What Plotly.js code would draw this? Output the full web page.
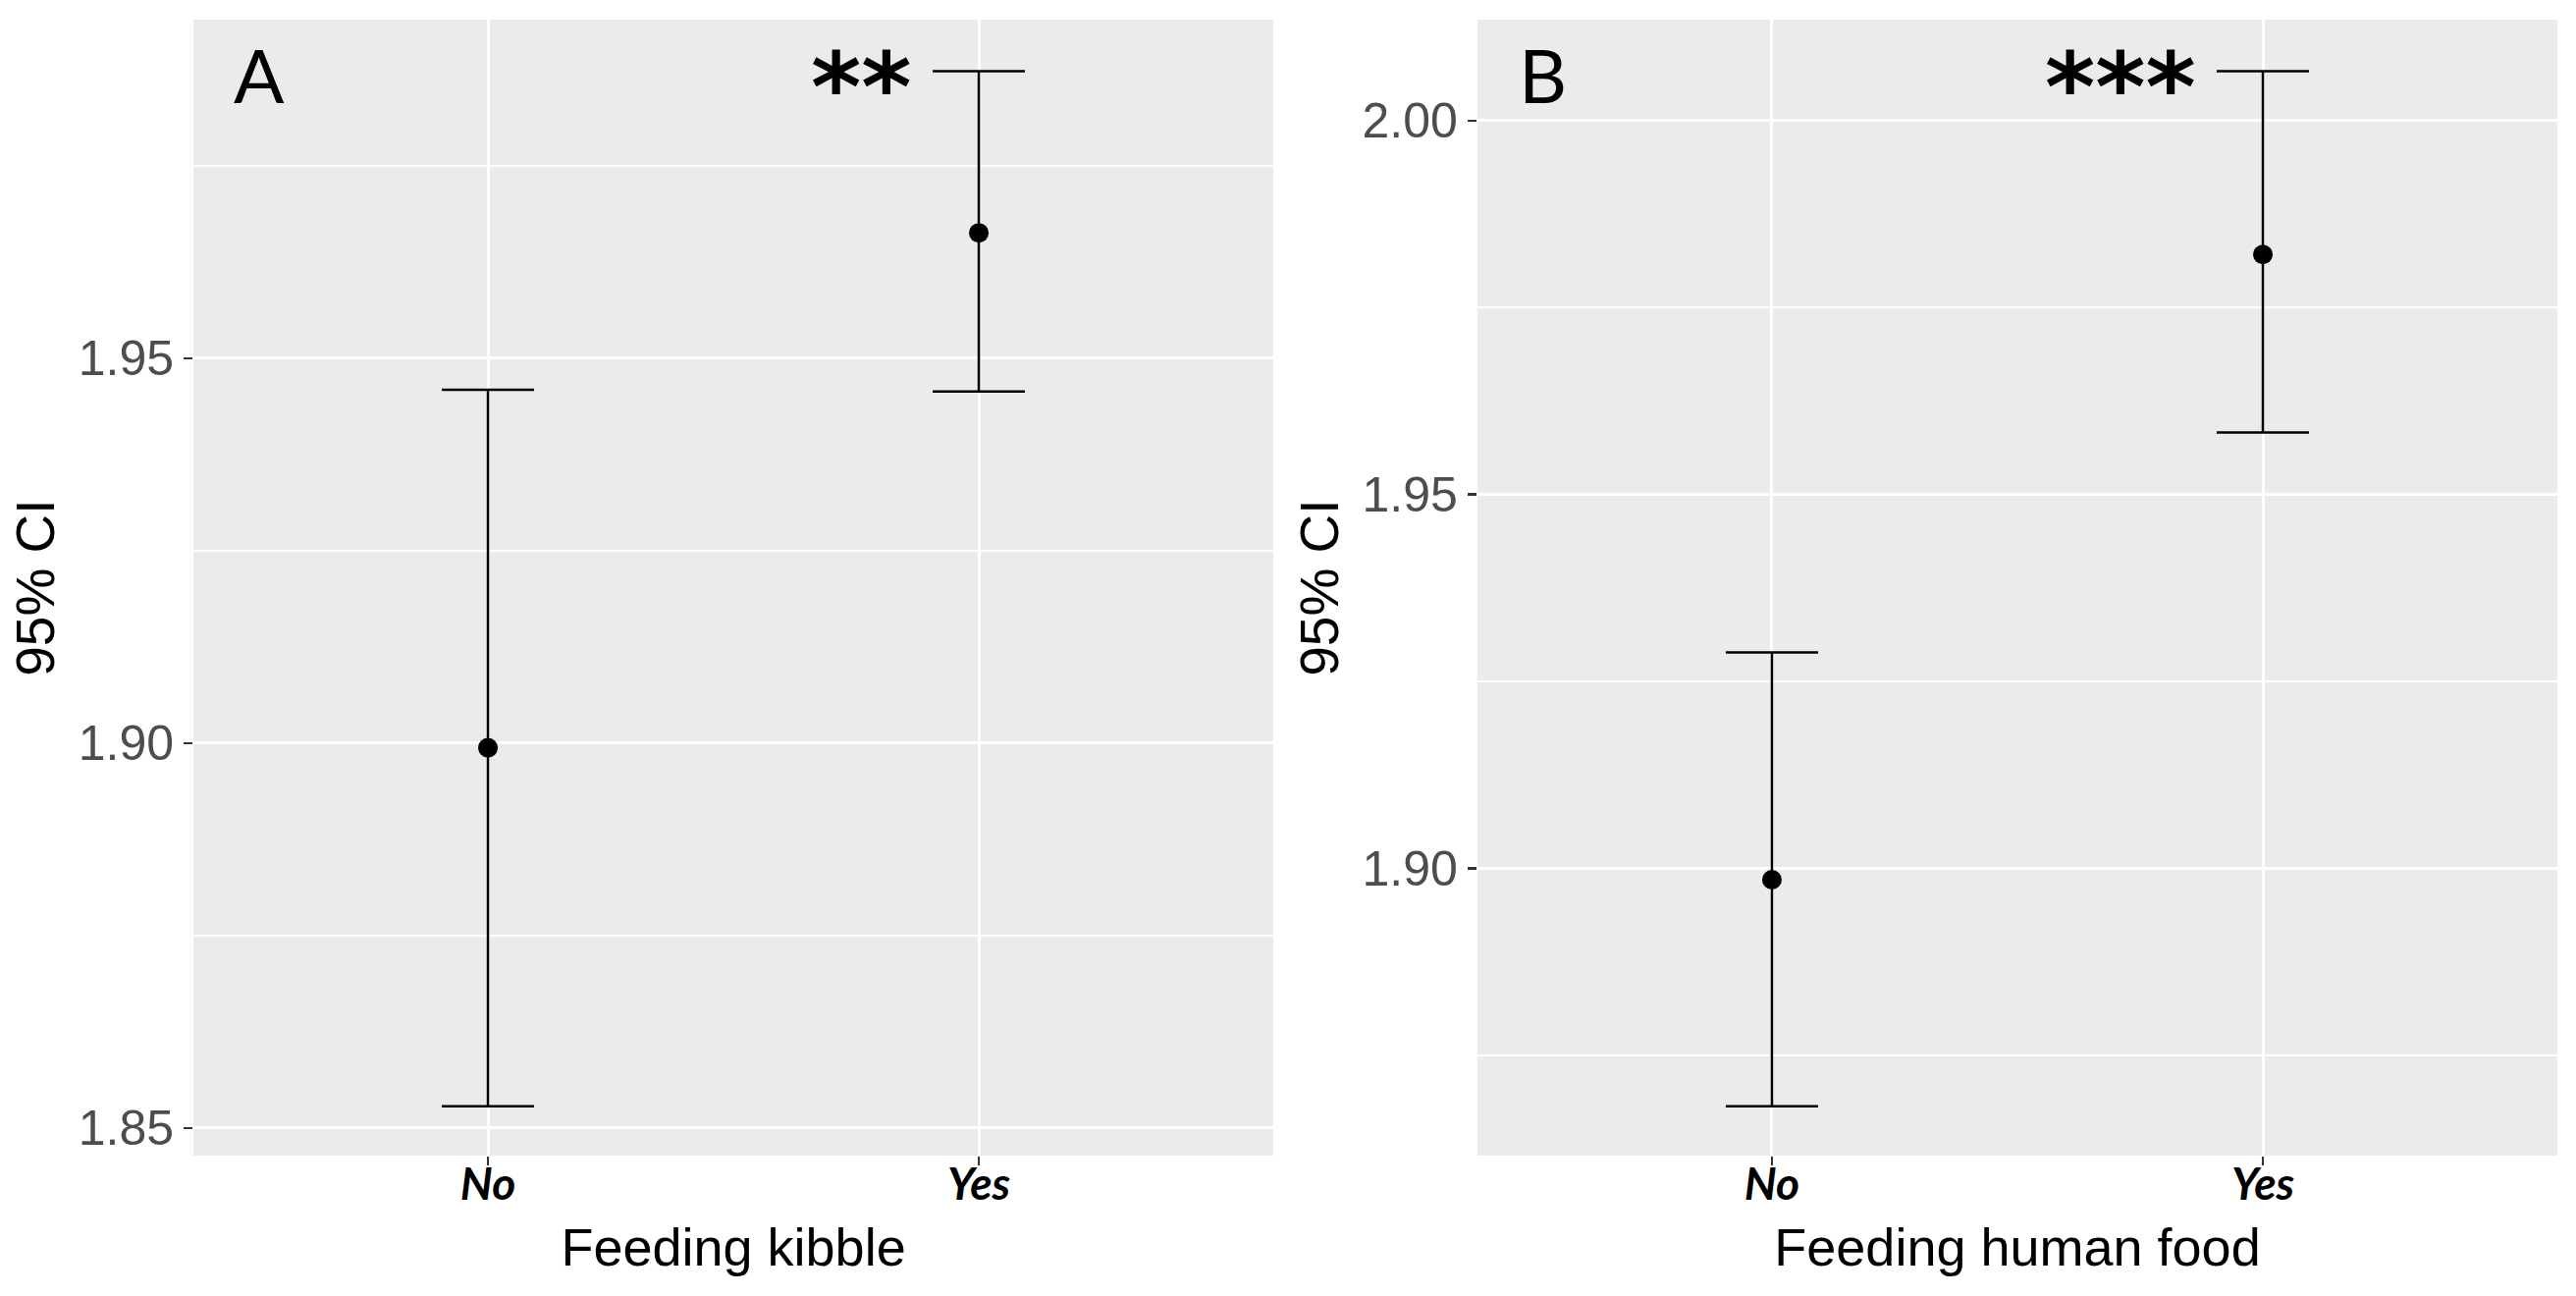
<!DOCTYPE html>
<html>
<head>
<meta charset="utf-8">
<script src="https://cdn.plot.ly/plotly-3.0.1.min.js"></script>
<style>html,body{margin:0;padding:0;background:#fff;}#chart{width:2624px;height:1320px;}</style>
</head>
<body>
<div id="chart"></div>
<script>
const categories = ['No', 'Yes'];
const kibbleMean  = [1.8994, 1.9663];
const kibbleLower = [1.8528, 1.9457];
const kibbleUpper = [1.9459, 1.9873];
const humanMean  = [1.8985, 1.9821];
const humanLower = [1.8682, 1.9583];
const humanUpper = [1.9289, 2.0066];
const panelLabels = ['A', 'B'];
const sigLabels = ['**', '***'];
const xTitles = ['Feeding kibble', 'Feeding human food'];
const yTitle = '95% CI';

function ciTrace(mean, lower, upper, xa, ya) {
  return {
    type: 'scatter', mode: 'markers', x: categories, y: mean, xaxis: xa, yaxis: ya,
    marker: {color: '#000', size: 20},
    error_y: {type: 'data', symmetric: false,
      array: upper.map((u, i) => u - mean[i]),
      arrayminus: lower.map((l, i) => mean[i] - l),
      color: '#000', thickness: 2.5, width: 47},
    showlegend: false, hoverinfo: 'skip'
  };
}

const data = [
  ciTrace(kibbleMean, kibbleLower, kibbleUpper, 'x', 'y'),
  ciTrace(humanMean, humanLower, humanUpper, 'x2', 'y2')
];

const xTickFont = {family: 'Lato, sans-serif', size: 46, color: '#000', weight: 'bold', style: 'italic'};
const xTitleFont = {family: '"Liberation Sans", Arial, sans-serif', size: 54, color: '#000'};
const yTickFont = {family: '"Liberation Sans", Arial, sans-serif', size: 50, color: '#4d4d4d'};
const yTitleFont = {family: '"Liberation Sans", Arial, sans-serif', size: 55, color: '#000'};

function xAxis(dom, title, anchor) {
  return {domain: dom, anchor: anchor, type: 'category', range: [-0.6, 1.6],
    showgrid: true, gridcolor: '#fff', gridwidth: 3, zeroline: false, showline: false,
    ticks: 'outside', ticklen: 9, tickwidth: 2.5, tickcolor: '#333', ticklabelstandoff: -20,
    tickfont: xTickFont, title: {text: title, font: xTitleFont, standoff: 19}, automargin: false};
}
function yAxis(range, tick0, anchor) {
  return {domain: [0.1083, 0.9848], anchor: anchor, range: range,
    tick0: tick0, dtick: 0.05, tickformat: '.2f',
    showgrid: true, gridcolor: '#fff', gridwidth: 3, zeroline: false, showline: false,
    minor: {dtick: 0.025, tick0: tick0, showgrid: true, gridcolor: '#fff', gridwidth: 2},
    ticks: 'outside', ticklen: 9, tickwidth: 2.5, tickcolor: '#333',
    tickfont: yTickFont, title: {text: yTitle, font: yTitleFont, standoff: 6}, automargin: false};
}

const annFontLabel = {family: 'Lato, "Open Sans", sans-serif', size: 76, color: '#000'};
const annFontSig = {family: '"DejaVu Sans", sans-serif', size: 98, color: '#000', weight: 'bold'};

const annotations = [];
['x', 'x2'].forEach((xa, i) => {
  const ya = i === 0 ? 'y' : 'y2';
  annotations.push({xref: xa + ' domain', yref: ya + ' domain', x: 0.061, y: 0.952,
    text: panelLabels[i], showarrow: false, xanchor: 'center', yanchor: 'middle', font: annFontLabel});
  annotations.push({xref: xa + ' domain', yref: ya + ' domain', x: 0.667, y: 0.94,
    text: sigLabels[i], showarrow: false, xanchor: 'right', yanchor: 'middle', font: annFontSig});
});

const layout = {
  width: 2624, height: 1320,
  margin: {l: 0, r: 0, t: 0, b: 0},
  paper_bgcolor: '#fff', plot_bgcolor: '#ebebeb',
  xaxis: xAxis([0.0751, 0.4943], xTitles[0], 'y'),
  yaxis: yAxis([1.8464, 1.994], 1.85, 'x'),
  xaxis2: xAxis([0.5735, 0.9928], xTitles[1], 'y2'),
  yaxis2: yAxis([1.8616, 2.0135], 1.85, 'x2'),
  annotations: annotations,
  showlegend: false
};

Plotly.newPlot('chart', data, layout, {staticPlot: true, displayModeBar: false});
</script>
</body>
</html>
